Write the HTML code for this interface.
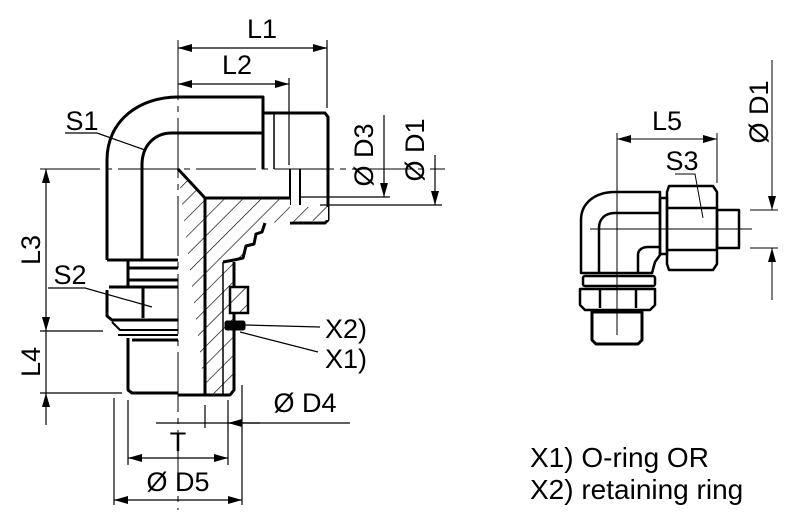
<!DOCTYPE html>
<html><head><meta charset="utf-8"><style>
html,body{margin:0;padding:0;background:#fff;}
svg{display:block;}
text{font-family:"Liberation Sans",Arial,sans-serif;fill:#000;}
</style></head><body>
<svg width="802" height="523" viewBox="0 0 802 523" xmlns="http://www.w3.org/2000/svg">
<defs>
<pattern id="h" patternUnits="userSpaceOnUse" width="13" height="13" patternTransform="rotate(45)">
<rect width="13" height="13" fill="#fff"/><line x1="0" y1="0" x2="0" y2="13" stroke="#000" stroke-width="1.3"/>
</pattern>
<marker id="a" markerWidth="14" markerHeight="8" refX="14" refY="4" orient="auto-start-reverse" markerUnits="userSpaceOnUse">
<path d="M0,0 L14,4 L0,8 Z" fill="#000"/></marker>
</defs>

<g stroke="#000" stroke-width="1" fill="none">
<line x1="178" y1="40" x2="178" y2="510" stroke-dasharray="60,6,6,6"/>
<line x1="40" y1="169" x2="445" y2="169" stroke-dasharray="60,6,6,6"/>
</g>

<g stroke="#000" stroke-width="3" fill="none" stroke-linejoin="round">
<path d="M107,260 L107,160 C107,120 140,97 178,97 L263,97 L263,169"/>
<path d="M142,260 L142,165 C142,145 155,133 172,133 L263,133"/>
<line x1="107" y1="260" x2="178" y2="260"/>
<path d="M263,113 L325,113 L328,117 L328,220 L325,223 L290,223"/>
<line x1="274" y1="113" x2="274" y2="169" stroke-width="1.5"/>
<line x1="290" y1="169" x2="290" y2="205" stroke-width="2"/>
<line x1="300" y1="169" x2="300" y2="205" stroke-width="2"/>
<path d="M128,260 L128,287 M128,268 L178,268 M128,280 L178,280"/>
<path d="M109,287 L178,287 M107,290 L107,316 L112,320 L178,320 M143,287 L143,318"/>
<path d="M112,322 L120,330 L178,330 M118,335 L178,335" stroke-width="2"/>
<path d="M128,338 L128,390 L132,393 L178,393 M132,340 L178,340" />
</g>

<path d="M178,169 L205,198 L290,198 L290,207 L328,207 L328,220 L265,223 L262,232 L256,234 L254,244 L246,246 L243,258 L234,260 L234,392 L230,395 L205,395 Z" fill="url(#h)" stroke="none"/>
<g stroke="#000" stroke-width="3" fill="none" stroke-linejoin="round">
<path d="M178,169 L205,198 L290,198"/>
<path d="M205,198 L205,395 L230,395 L234,390 L234,262"/>
<path d="M265,223 L262,232 L256,234 L254,244 L246,246 L243,258 L234,260 L223,262"/>
<line x1="223" y1="262" x2="223" y2="395" stroke-width="1.5"/>
<line x1="178" y1="395" x2="205" y2="395"/>
</g>
<rect x="230" y="287" width="18" height="26" fill="url(#h)" stroke="#000" stroke-width="2.5"/>
<rect x="225" y="321" width="20" height="9" fill="#000" stroke="#000" stroke-width="1" rx="2"/>

<g stroke="#000" stroke-width="1.2" fill="none">
<line x1="178" y1="48" x2="327" y2="48" marker-start="url(#a)" marker-end="url(#a)"/>
<line x1="327" y1="40" x2="327" y2="108"/>
<line x1="178" y1="84" x2="289" y2="84" marker-start="url(#a)" marker-end="url(#a)"/>
<line x1="289" y1="78" x2="289" y2="165"/>
<line x1="46" y1="169" x2="46" y2="331" marker-start="url(#a)" marker-end="url(#a)"/>
<line x1="46" y1="331" x2="46" y2="393"/>
<line x1="46" y1="425" x2="46" y2="393" marker-end="url(#a)"/>
<line x1="40" y1="331" x2="103" y2="331"/>
<line x1="40" y1="393" x2="122" y2="393"/>
<line x1="384" y1="115" x2="384" y2="197" marker-end="url(#a)"/>
<line x1="300" y1="197" x2="390" y2="197"/>
<line x1="435" y1="155" x2="435" y2="205" marker-end="url(#a)"/>
<line x1="320" y1="205" x2="442" y2="205"/>
<line x1="128" y1="400" x2="128" y2="465"/>
<line x1="228" y1="400" x2="228" y2="465"/>
<line x1="114" y1="398" x2="114" y2="505"/>
<line x1="242" y1="385" x2="242" y2="505"/>
<line x1="205" y1="405" x2="205" y2="428"/>
<line x1="156" y1="423" x2="350" y2="423"/>
<line x1="260" y1="423" x2="228" y2="423" marker-end="url(#a)"/>
<line x1="128" y1="458" x2="228" y2="458" marker-start="url(#a)" marker-end="url(#a)"/>
<line x1="114" y1="500" x2="242" y2="500" marker-start="url(#a)" marker-end="url(#a)"/>
<path d="M65,133 L97,133 L145,150"/>
<path d="M48,288 L85,288 L152,307"/>
<line x1="245" y1="325" x2="320" y2="327"/>
<line x1="240" y1="332" x2="318" y2="352"/>
</g>

<g font-size="27">
<text x="262" y="38" text-anchor="middle">L1</text>
<text x="237" y="74" text-anchor="middle">L2</text>
<text x="82" y="130" text-anchor="middle">S1</text>
<text x="70" y="284" text-anchor="middle">S2</text>
<text transform="translate(40,250) rotate(-90)" text-anchor="middle">L3</text>
<text transform="translate(40,362) rotate(-90)" text-anchor="middle">L4</text>
<text transform="translate(373,155) rotate(-90)" text-anchor="middle">Ø D3</text>
<text transform="translate(424,150) rotate(-90)" text-anchor="middle">Ø D1</text>
<text x="305" y="412" text-anchor="middle">Ø D4</text>
<text x="178" y="451" text-anchor="middle">T</text>
<text x="178" y="491" text-anchor="middle">Ø D5</text>
<text x="325" y="338">X2)</text>
<text x="325" y="368">X1)</text>
<text x="667" y="130" text-anchor="middle">L5</text>
<text x="682" y="170" text-anchor="middle">S3</text>
<text transform="translate(768,112) rotate(-90)" text-anchor="middle">Ø D1</text>
</g>
<g font-size="28">
<text x="530" y="467">X1) O-ring OR</text>
<text x="530" y="499">X2) retaining ring</text>
</g>

<g stroke="#000" stroke-width="1" fill="none">
<line x1="617" y1="133" x2="617" y2="335"/>
<line x1="717" y1="133" x2="717" y2="183"/>
<line x1="617" y1="139" x2="717" y2="139" marker-start="url(#a)" marker-end="url(#a)"/>
<line x1="590" y1="229" x2="752" y2="229"/>
<line x1="772" y1="60" x2="772" y2="210" marker-end="url(#a)"/>
<line x1="772" y1="300" x2="772" y2="248" marker-end="url(#a)"/>
<line x1="750" y1="210" x2="778" y2="210"/>
<line x1="750" y1="248" x2="778" y2="248"/>
<path d="M675,174 L695,174 L703,218"/>
</g>
<g stroke="#000" stroke-width="2.5" fill="none" stroke-linejoin="round">
<path d="M581,273 L581,220 C581,203 595,192 615,192 L660,192 L660,255 L655,262 L652,273 Z"/>
<path d="M599,273 L599,228 C599,219 605,213 615,213 L660,213"/>
<path d="M638,273 L638,255 C638,250 642,247 648,247 L660,247"/>
<rect x="660" y="198" width="7" height="56"/>
<path d="M669,186 L713,186 L717,192 L717,264 L713,270 L669,270 L667,264 L667,192 Z"/>
<line x1="668" y1="208" x2="717" y2="208"/>
<line x1="668" y1="250" x2="717" y2="250"/>
<rect x="717" y="210" width="22" height="38"/>
<rect x="583" y="276" width="72" height="10" rx="2"/>
<path d="M580,289 L655,289 L655,305 L650,310 L585,310 L580,305 Z"/>
<line x1="600" y1="289" x2="600" y2="308"/>
<line x1="636" y1="289" x2="636" y2="308"/>
<path d="M592,312 L642,312 L642,340 L638,344 L596,344 L592,340 Z" stroke-width="3"/>
</g>
</svg>
</body></html>
